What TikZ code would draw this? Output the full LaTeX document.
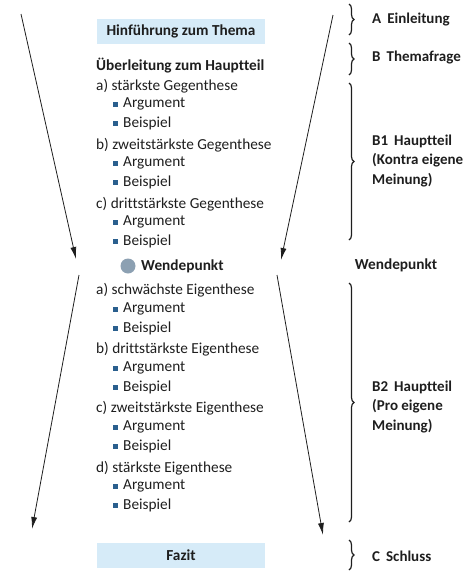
\documentclass[tikz,border=0pt]{standalone}
\usepackage{fontspec}
\setmainfont[Ligatures=NoCommon]{Carlito}
\usetikzlibrary{arrows.meta,decorations.pathreplacing}
\definecolor{boxblue}{HTML}{D6EBF8}
\definecolor{bulletblue}{HTML}{2A5F8E}
\definecolor{dotgray}{HTML}{8CA0B2}
\definecolor{txt}{HTML}{1E1E1E}
\begin{document}
\begin{tikzpicture}[x=1pt,y=-1pt,
  every node/.style={font=\fontsize{15.3}{19}\selectfont, text=txt, inner sep=0pt},
  headbox/.style={fill=boxblue, minimum width=168pt, minimum height=25pt, font=\fontsize{15.3}{19}\selectfont\bfseries},
  thesis/.style={anchor=west},
  item/.style={anchor=west},
  bul/.style={fill=bulletblue, minimum size=5pt},
  lab/.style={anchor=west, align=left, font=\fontsize{15}{19.5}\selectfont\bfseries},
  brc/.style={decorate, decoration={brace, amplitude=5pt}, line width=1.2pt, draw=txt},
  arr/.style={draw=txt, line width=0.8pt, -{Latex[length=12pt,width=6pt]}}
]
\useasboundingbox (0,0) rectangle (474,584);

% boxes
\node[headbox] (hin) at (181,31) {Hinführung zum Thema};
\node[headbox] (fazit) at (181,555) {Fazit};

\node[thesis, font=\fontsize{15.3}{19}\selectfont\bfseries] (ueb) at (96,66) {Überleitung zum Hauptteil};

% Gegenthesen
\node[thesis] (ga) at (96,86) {a) stärkste Gegenthese};
\node[item] (ga1) at (123,104) {Argument};
\node[item] (ga2) at (123,123) {Beispiel};
\node[thesis] (gb) at (96,145) {b) zweitstärkste Gegenthese};
\node[item] (gb1) at (123,163) {Argument};
\node[item] (gb2) at (123,182) {Beispiel};
\node[thesis] (gc) at (96,204) {c) drittstärkste Gegenthese};
\node[item] (gc1) at (123,222) {Argument};
\node[item] (gc2) at (123,241) {Beispiel};

% Wendepunkt
\node[circle, fill=dotgray, minimum size=15pt] (dot) at (128,266) {};
\node[anchor=west, font=\fontsize{15.3}{19}\selectfont\bfseries] (wp) at (141,266) {Wendepunkt};
\node[font=\fontsize{15.3}{19}\selectfont\bfseries] (wpr) at (396,265) {Wendepunkt};

% Eigenthesen
\node[thesis] (ea) at (96,290) {a) schwächste Eigenthese};
\node[item] (ea1) at (123,309) {Argument};
\node[item] (ea2) at (123,328) {Beispiel};
\node[thesis] (eb) at (96,349) {b) drittstärkste Eigenthese};
\node[item] (eb1) at (123,368) {Argument};
\node[item] (eb2) at (123,387) {Beispiel};
\node[thesis] (ec) at (96,408) {c) zweitstärkste Eigenthese};
\node[item] (ec1) at (123,427) {Argument};
\node[item] (ec2) at (123,446) {Beispiel};
\node[thesis] (ed) at (96,468) {d) stärkste Eigenthese};
\node[item] (ed1) at (123,486) {Argument};
\node[item] (ed2) at (123,505) {Beispiel};

% bullets
\foreach \n in {ga1,ga2,gb1,gb2,gc1,gc2,ea1,ea2,eb1,eb2,ec1,ec2,ed1,ed2}
  \node[bul] (b\n) at ([xshift=-8pt]\n.west) {};

% arrows
\coordinate (lu1) at (21,14);  \coordinate (lu2) at (76,259);
\coordinate (ru1) at (333,15); \coordinate (ru2) at (281,260);
\coordinate (ll1) at (79,275); \coordinate (ll2) at (32,529);
\coordinate (rl1) at (277,275);\coordinate (rl2) at (323,535);
\draw[arr] (lu1) -- (lu2);
\draw[arr] (ru1) -- (ru2);
\draw[arr] (ll1) -- (ll2);
\draw[arr] (rl1) -- (rl2);

% braces
\coordinate (ba1) at (349,4);   \coordinate (ba2) at (349,35);
\coordinate (bb1) at (349,43);  \coordinate (bb2) at (349,75);
\coordinate (bc1) at (349,83);  \coordinate (bc2) at (349,240);
\coordinate (bd1) at (349,283); \coordinate (bd2) at (349,522);
\coordinate (be1) at (349,540); \coordinate (be2) at (349,570);
\draw[brc] (ba1) -- (ba2);
\draw[brc] (bb1) -- (bb2);
\draw[brc] (bc1) -- (bc2);
\draw[brc] (bd1) -- (bd2);
\draw[brc] (be1) -- (be2);

% labels
\node[lab] (la) at (372,20) {A\hspace{6pt}Einleitung};
\node[lab] (lb) at (372,58) {B\hspace{6pt}Themafrage};
\node[lab] (lc) at (372,161) {B1\hspace{6pt}Hauptteil\\(Kontra eigene\\Meinung)};
\node[lab] (ld) at (372,407) {B2\hspace{6pt}Hauptteil\\(Pro eigene\\Meinung)};
\node[lab] (le) at (372,556) {C\hspace{6pt}Schluss};
\end{tikzpicture}
\end{document}
